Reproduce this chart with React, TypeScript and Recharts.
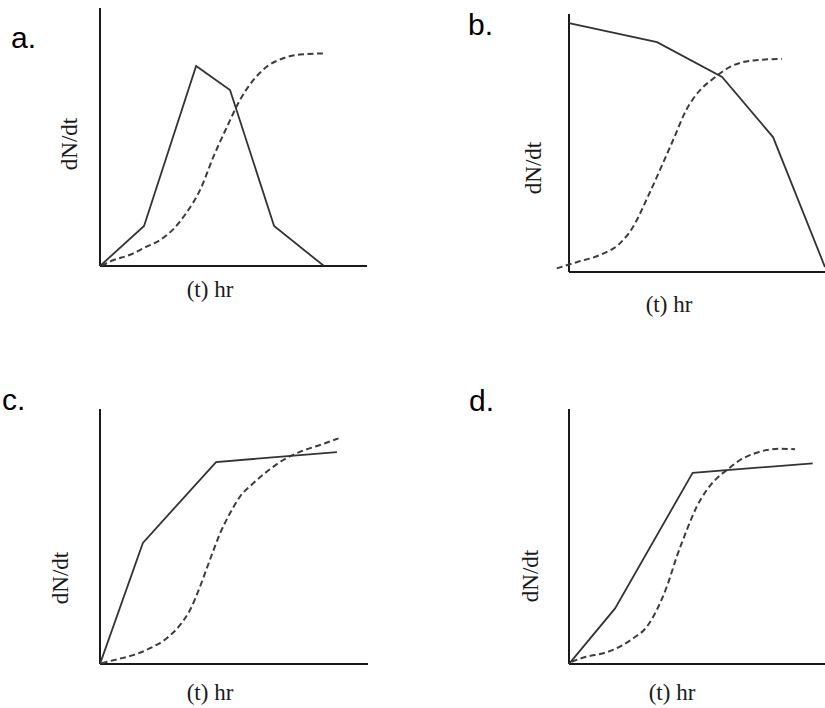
import React from 'react';
import { LineChart, Line, XAxis, YAxis, ReferenceLine } from 'recharts';

// ---- data (t in % of time axis, N in % of dN/dt axis) ----
const aSolidT = [0, 16.5, 36, 48.7, 65.2, 83.9];
const aSolidN = [0, 15.5, 77.5, 68.2, 15.5, 0];
const aDashT = [0.6, 3.7, 12.5, 16.2, 22.5, 27.2, 32.2, 37.5, 42.5, 47.6, 52.4, 57.4, 62.4, 68.6, 74.9, 84.3];
const aDashN = [0.1, 1.7, 4.9, 6.9, 10.1, 14, 20.4, 29.5, 42.4, 54, 64.3, 72, 77.2, 80.5, 82, 82.4];

const bSolidT = [0, 34.4, 59.8, 79.7, 100];
const bSolidN = [96.5, 89.1, 75.6, 52.3, 1.9];
const bDashT = [-4.8, 3.0, 12.1, 19.9, 25.1, 30.2, 35.5, 40.7, 45.8, 51.2, 56.4, 62.9, 72, 83.1];
const bDashN = [1.4, 3.8, 6.6, 11.1, 17.6, 27.9, 39.5, 51.2, 62.8, 70.5, 75, 79.5, 82, 82.6];

const cSolidT = [0, 16, 43.3, 88.4];
const cSolidN = [0, 47.5, 79.2, 83.1];
const cDashT = [0.6, 6.2, 12.4, 18.7, 24.9, 29.9, 33.6, 37.3, 41, 44.8, 48.5, 52.2, 57.2, 62.2, 68.4, 74.6, 82.1, 89];
const cDashN = [0.3, 1.8, 3.5, 6.2, 10.1, 15.3, 21.2, 30.3, 40.8, 51.2, 59.1, 65.6, 70.9, 75.4, 80, 83.2, 85.9, 88.5];

const dSolidT = [0, 18, 48.3, 95.2];
const dSolidN = [0, 21.8, 75, 78.7];
const dDashT = [1, 6.9, 13.4, 19.9, 25.1, 30.4, 34.3, 38.2, 42.1, 46, 49.9, 53.8, 57.7, 61.6, 66.8, 72, 77.2, 82.4, 88.3];
const dDashN = [0.9, 2.9, 4.2, 6.8, 10.1, 14.6, 21.2, 30.3, 42.1, 52.5, 61.7, 68.2, 72.8, 76, 80, 82.4, 83.9, 84.4, 84.2];

const panelLetters = ['a.', 'b.', 'c.', 'd.'];
const xTitle = '(t) hr';
const yTitle = 'dN/dt';

// ---- layout ----
const zip = (t: number[], n: number[]) => t.map((x, i) => ({ t: x, n: n[i] }));

const panels = [
  { key: 'a', left: 0, top: 0, width: 412, height: 354, margin: { left: 100, right: 45, top: 8, bottom: 88 }, tMin: 0,
    solid: zip(aSolidT, aSolidN), dash: zip(aDashT, aDashN), xl: { dx: 110, dy: 31 }, yl: { dx: -23, dy: 136 } },
  { key: 'b', left: 412, top: 0, width: 413, height: 354, margin: { left: 144.2, right: 0, top: 14, bottom: 82 }, tMin: -5,
    solid: zip(bSolidT, bSolidN), dash: zip(bDashT, bDashN), xl: { dx: 100, dy: 40 }, yl: { dx: -28, dy: 154 } },
  { key: 'c', left: 0, top: 354, width: 412, height: 354, margin: { left: 100, right: 44, top: 55, bottom: 44 }, tMin: 0,
    solid: zip(cSolidT, cSolidN), dash: zip(cDashT, cDashN), xl: { dx: 110, dy: 36 }, yl: { dx: -32, dy: 169 } },
  { key: 'd', left: 412, top: 354, width: 413, height: 354, margin: { left: 157, right: 0, top: 55, bottom: 44 }, tMin: 0,
    solid: zip(dSolidT, dSolidN), dash: zip(dDashT, dDashN), xl: { dx: 103, dy: 36 }, yl: { dx: -31, dy: 167 } },
];

const letterPos = [
  { x: 11, y: 48 },
  { x: 468, y: 35 },
  { x: 2, y: 410 },
  { x: 469, y: 411 },
];

const SERIF = "'Liberation Serif', 'Times New Roman', serif";
const SANS = "'Liberation Sans', Arial, sans-serif";
const AXIS = '#1a1a1a';

const xLabel = (dx: number, dy: number) => (props: any) => {
  const vb = props.viewBox || { x: 0, y: 0 };
  return (
    <text x={vb.x + dx} y={vb.y + dy} textAnchor="middle" fontFamily={SERIF} fontSize={23} fill="#1a1a1a">
      {xTitle}
    </text>
  );
};

const yLabel = (dx: number, dy: number) => (props: any) => {
  const vb = props.viewBox || { x: 0, y: 0 };
  const x = vb.x + dx;
  const y = vb.y + dy;
  return (
    <text x={x} y={y} textAnchor="middle" fontFamily={SERIF} fontSize={23} fill="#1a1a1a"
      transform={`rotate(-90 ${x} ${y})`}>
      {yTitle}
    </text>
  );
};

function Panel({ p }: { p: any }) {
  return (
    <div style={{ position: 'absolute', left: p.left, top: p.top }}>
      <LineChart width={p.width} height={p.height} margin={p.margin}>
        <XAxis type="number" dataKey="t" domain={[p.tMin, 100]} hide allowDataOverflow />
        <YAxis type="number" dataKey="n" domain={[0, 100]} hide allowDataOverflow />
        <ReferenceLine segment={[{ x: 0, y: 0 }, { x: 100, y: 0 }]} stroke={AXIS} strokeWidth={2}
          label={xLabel(p.xl.dx, p.xl.dy)} />
        <ReferenceLine segment={[{ x: 0, y: 0 }, { x: 0, y: 100 }]} stroke={AXIS} strokeWidth={2}
          label={yLabel(p.yl.dx, p.yl.dy)} />
        <Line data={p.dash} dataKey="n" type="monotone" stroke="#3c3c3c" strokeWidth={2} strokeDasharray="6 3.5"
          dot={false} activeDot={false} isAnimationActive={false} />
        <Line data={p.solid} dataKey="n" type="linear" stroke="#333" strokeWidth={1.8}
          dot={false} activeDot={false} isAnimationActive={false} />
      </LineChart>
    </div>
  );
}

export default function App() {
  return (
    <div style={{ position: 'absolute', left: 0, top: 0, width: 825, height: 708, background: '#fff', overflow: 'hidden' }}>
      {panels.map((p) => (
        <Panel key={p.key} p={p} />
      ))}
      <svg width={825} height={708} style={{ position: 'absolute', left: 0, top: 0, pointerEvents: 'none' }}>
        {panelLetters.map((l, i) => (
          <text key={l} x={letterPos[i].x} y={letterPos[i].y} fontFamily={SANS} fontSize={30} fill="#000">
            {l}
          </text>
        ))}
      </svg>
    </div>
  );
}
